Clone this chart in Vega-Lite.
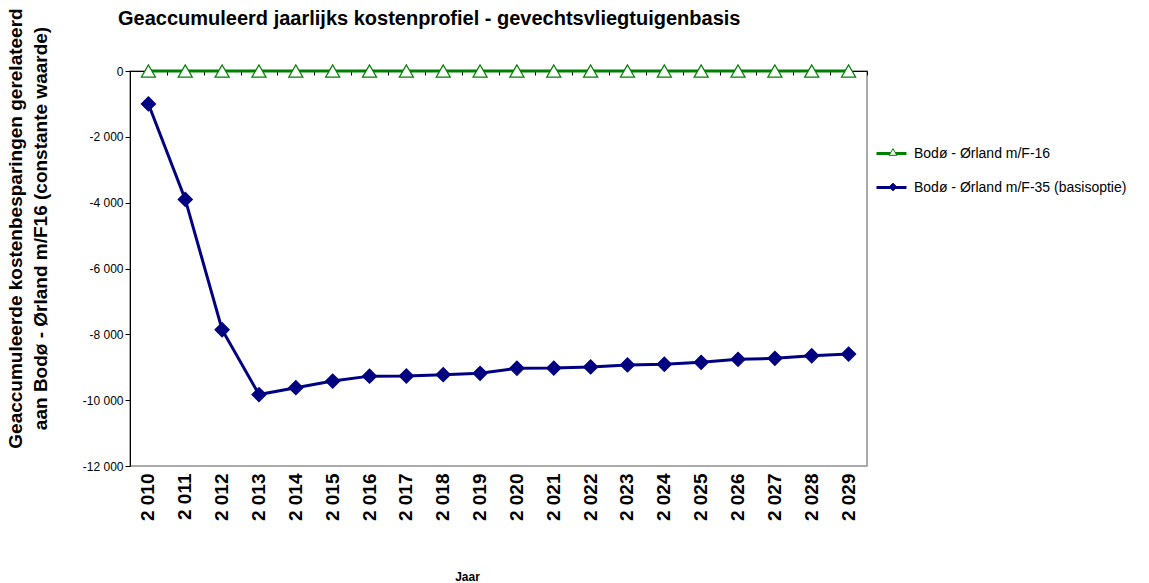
{
  "$schema": "https://vega.github.io/schema/vega-lite/v6.json",
  "width": 737,
  "height": 395,
  "autosize": {"type": "none"},
  "padding": {"left": 130, "top": 71, "right": 282, "bottom": 117},
  "background": "white",
  "config": {
    "locale": {"number": {"decimal": ",", "thousands": " ", "grouping": [3], "currency": ["€", ""], "minus": "-"}},
    "view": {"stroke": "#909090", "strokeWidth": 1.5},
    "font": "Liberation Sans"
  },
  "title": {
    "text": "Geaccumuleerd jaarlijks kostenprofiel - gevechtsvliegtuigenbasis",
    "anchor": "start",
    "frame": "group",
    "dx": -12,
    "offset": -37,
    "baseline": "alphabetic",
    "font": "Liberation Sans",
    "fontSize": 20,
    "fontWeight": "bold",
    "color": "black"
  },
  "data": {
    "values": [
      {"reeks": "Bodø - Ørland m/F-16", "jaar": 2010, "waarde": 0},
      {"reeks": "Bodø - Ørland m/F-16", "jaar": 2011, "waarde": 0},
      {"reeks": "Bodø - Ørland m/F-16", "jaar": 2012, "waarde": 0},
      {"reeks": "Bodø - Ørland m/F-16", "jaar": 2013, "waarde": 0},
      {"reeks": "Bodø - Ørland m/F-16", "jaar": 2014, "waarde": 0},
      {"reeks": "Bodø - Ørland m/F-16", "jaar": 2015, "waarde": 0},
      {"reeks": "Bodø - Ørland m/F-16", "jaar": 2016, "waarde": 0},
      {"reeks": "Bodø - Ørland m/F-16", "jaar": 2017, "waarde": 0},
      {"reeks": "Bodø - Ørland m/F-16", "jaar": 2018, "waarde": 0},
      {"reeks": "Bodø - Ørland m/F-16", "jaar": 2019, "waarde": 0},
      {"reeks": "Bodø - Ørland m/F-16", "jaar": 2020, "waarde": 0},
      {"reeks": "Bodø - Ørland m/F-16", "jaar": 2021, "waarde": 0},
      {"reeks": "Bodø - Ørland m/F-16", "jaar": 2022, "waarde": 0},
      {"reeks": "Bodø - Ørland m/F-16", "jaar": 2023, "waarde": 0},
      {"reeks": "Bodø - Ørland m/F-16", "jaar": 2024, "waarde": 0},
      {"reeks": "Bodø - Ørland m/F-16", "jaar": 2025, "waarde": 0},
      {"reeks": "Bodø - Ørland m/F-16", "jaar": 2026, "waarde": 0},
      {"reeks": "Bodø - Ørland m/F-16", "jaar": 2027, "waarde": 0},
      {"reeks": "Bodø - Ørland m/F-16", "jaar": 2028, "waarde": 0},
      {"reeks": "Bodø - Ørland m/F-16", "jaar": 2029, "waarde": 0},
      {"reeks": "Bodø - Ørland m/F-35 (basisoptie)", "jaar": 2010, "waarde": -1000},
      {"reeks": "Bodø - Ørland m/F-35 (basisoptie)", "jaar": 2011, "waarde": -3900},
      {"reeks": "Bodø - Ørland m/F-35 (basisoptie)", "jaar": 2012, "waarde": -7860},
      {"reeks": "Bodø - Ørland m/F-35 (basisoptie)", "jaar": 2013, "waarde": -9830},
      {"reeks": "Bodø - Ørland m/F-35 (basisoptie)", "jaar": 2014, "waarde": -9620},
      {"reeks": "Bodø - Ørland m/F-35 (basisoptie)", "jaar": 2015, "waarde": -9420},
      {"reeks": "Bodø - Ørland m/F-35 (basisoptie)", "jaar": 2016, "waarde": -9270},
      {"reeks": "Bodø - Ørland m/F-35 (basisoptie)", "jaar": 2017, "waarde": -9265},
      {"reeks": "Bodø - Ørland m/F-35 (basisoptie)", "jaar": 2018, "waarde": -9225},
      {"reeks": "Bodø - Ørland m/F-35 (basisoptie)", "jaar": 2019, "waarde": -9185},
      {"reeks": "Bodø - Ørland m/F-35 (basisoptie)", "jaar": 2020, "waarde": -9030},
      {"reeks": "Bodø - Ørland m/F-35 (basisoptie)", "jaar": 2021, "waarde": -9025},
      {"reeks": "Bodø - Ørland m/F-35 (basisoptie)", "jaar": 2022, "waarde": -8990},
      {"reeks": "Bodø - Ørland m/F-35 (basisoptie)", "jaar": 2023, "waarde": -8930},
      {"reeks": "Bodø - Ørland m/F-35 (basisoptie)", "jaar": 2024, "waarde": -8910},
      {"reeks": "Bodø - Ørland m/F-35 (basisoptie)", "jaar": 2025, "waarde": -8850},
      {"reeks": "Bodø - Ørland m/F-35 (basisoptie)", "jaar": 2026, "waarde": -8760},
      {"reeks": "Bodø - Ørland m/F-35 (basisoptie)", "jaar": 2027, "waarde": -8730},
      {"reeks": "Bodø - Ørland m/F-35 (basisoptie)", "jaar": 2028, "waarde": -8650},
      {"reeks": "Bodø - Ørland m/F-35 (basisoptie)", "jaar": 2029, "waarde": -8600}
    ]
  },
  "encoding": {
    "y": {
      "field": "waarde",
      "type": "quantitative",
      "scale": {"domain": [-12000, 0], "nice": false},
      "axis": {
        "orient": "left",
        "values": [-12000, -10000, -8000, -6000, -4000, -2000, 0],
        "format": ",d",
        "grid": false,
        "domainColor": "black",
        "tickColor": "black",
        "tickSize": 5,
        "labelPadding": 2,
        "labelFont": "Liberation Sans",
        "labelFontSize": 12,
        "labelColor": "black",
        "title": ["Geaccumuleerde kostenbesparingen gerelateerd", "aan Bodø - Ørland  m/F16 (constante waarde)"],
        "titleFont": "Liberation Sans",
        "titleFontSize": 19,
        "titleFontWeight": "bold",
        "titleColor": "black",
        "titleAngle": -90,
        "titleAlign": "center",
        "titleBaseline": "top",
        "titleLineHeight": 25,
        "titleX": -124,
        "titleY": 157
      }
    }
  },
  "layer": [
    {
      "mark": {"type": "line", "strokeWidth": 3},
      "encoding": {
        "x": {
          "field": "jaar",
          "type": "ordinal",
          "scale": {"type": "band", "paddingInner": 0, "paddingOuter": 0},
          "axis": {
            "orient": "bottom",
            "domain": false,
            "ticks": false,
            "grid": false,
            "labelAngle": -90,
            "labelAlign": "right",
            "labelBaseline": "middle",
            "labelPadding": 7,
            "labelFont": "Liberation Sans",
            "labelFontSize": 19,
            "labelFontWeight": "bold",
            "labelColor": "black",
            "labelExpr": "slice(datum.label, 0, 1) + ' ' + slice(datum.label, 1)",
            "title": "Jaar",
            "titleFont": "Liberation Sans",
            "titleFontSize": 12,
            "titleFontWeight": "bold",
            "titleColor": "black",
            "titleX": 337,
            "titleY": 114,
            "titleBaseline": "alphabetic"
          }
        },
        "color": {
          "field": "reeks",
          "type": "nominal",
          "scale": {"domain": ["Bodø - Ørland m/F-16", "Bodø - Ørland m/F-35 (basisoptie)"], "range": ["#008000", "#000080"]},
          "legend": {
            "orient": "none",
            "legendX": 745,
            "legendY": 66,
            "title": null,
            "padding": 0,
            "symbolType": "stroke",
            "symbolStrokeWidth": 3,
            "symbolSize": 900,
            "labelFont": "Liberation Sans",
            "labelFontSize": 14,
            "labelColor": "black",
            "labelOffset": 6,
            "labelLimit": 400,
            "rowPadding": 10
          }
        }
      }
    },
    {
      "mark": {"type": "point", "size": 200, "strokeWidth": 1.2, "opacity": 1},
      "encoding": {
        "x": {
          "field": "jaar",
          "type": "ordinal",
          "axis": {
            "orient": "top",
            "labels": false,
            "domain": true,
            "domainColor": "black",
            "ticks": true,
            "tickColor": "black",
            "tickSize": -4,
            "tickBand": "extent",
            "grid": false,
            "title": null
          }
        },
        "shape": {
          "field": "reeks",
          "type": "nominal",
          "scale": {"range": ["triangle-up", "diamond"]},
          "legend": {
            "orient": "none",
            "legendX": 756,
            "legendY": 74,
            "title": null,
            "padding": 0,
            "symbolSize": 60,
            "symbolStrokeWidth": 1,
            "labelFontSize": 14,
            "labelExpr": "''",
            "rowPadding": 21
          }
        },
        "fill": {
          "field": "reeks",
          "type": "nominal",
          "scale": {"range": ["white", "#000080"]},
          "legend": {
            "orient": "none",
            "legendX": 756,
            "legendY": 74,
            "title": null,
            "padding": 0,
            "symbolSize": 60,
            "symbolStrokeWidth": 1,
            "labelFontSize": 14,
            "labelExpr": "''",
            "rowPadding": 21
          }
        },
        "stroke": {
          "field": "reeks",
          "type": "nominal",
          "scale": {"range": ["#008000", "#000080"]},
          "legend": {
            "orient": "none",
            "legendX": 756,
            "legendY": 74,
            "title": null,
            "padding": 0,
            "symbolSize": 60,
            "symbolStrokeWidth": 1,
            "labelFontSize": 14,
            "labelExpr": "''",
            "rowPadding": 21
          }
        }
      }
    }
  ],
  "resolve": {"axis": {"x": "independent"}}
}
